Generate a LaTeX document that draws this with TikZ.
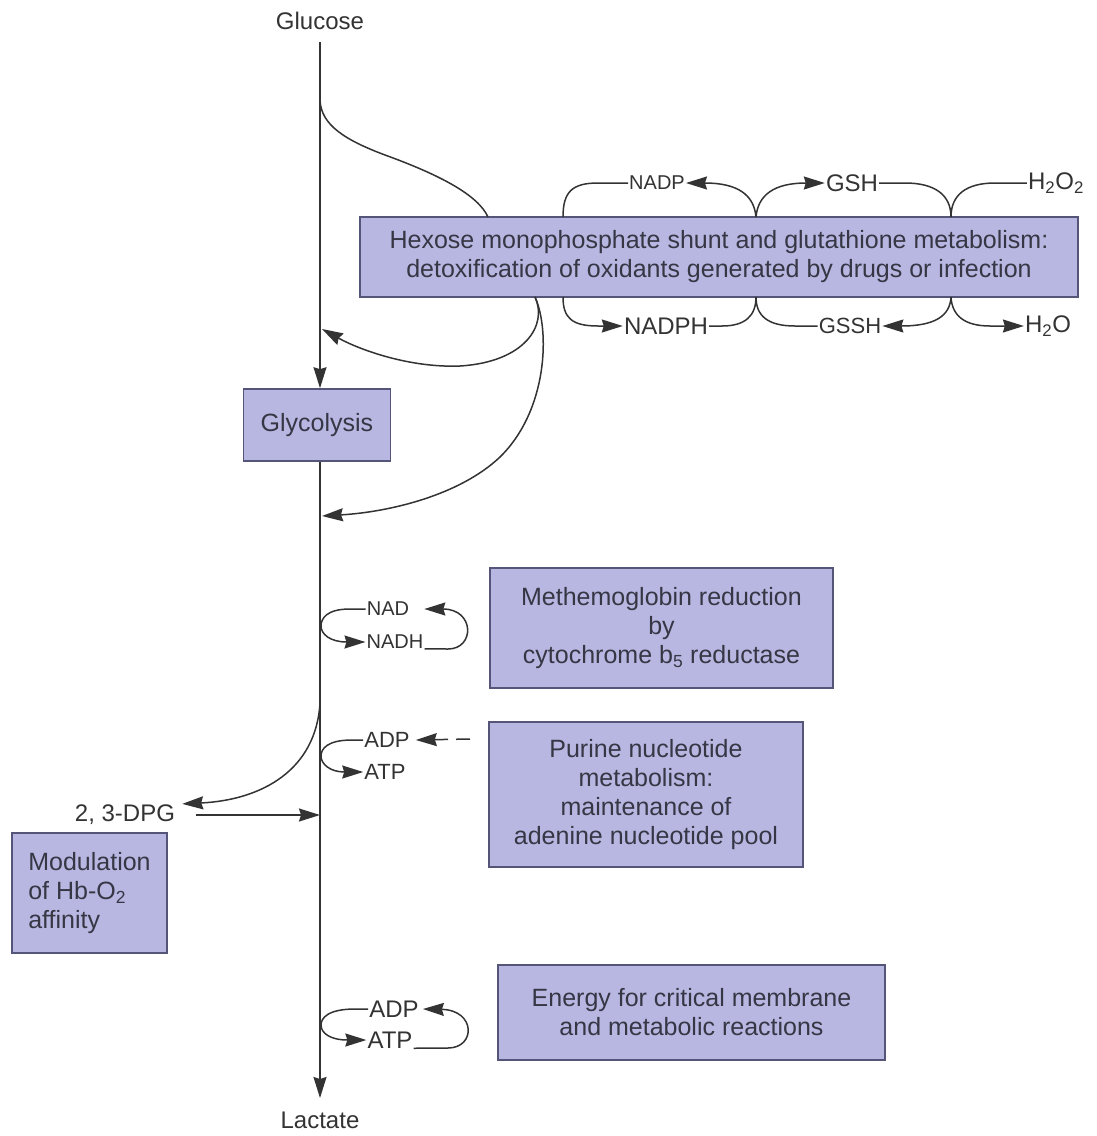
\documentclass[tikz,border=0pt]{standalone}
\usepackage{fontspec}
\setmainfont{Liberation Sans}
\usetikzlibrary{positioning,arrows.meta,calc}
\definecolor{ink}    {HTML}{333333}
\definecolor{boxfill}{HTML}{B7B7E2}
\definecolor{boxline}{HTML}{55557A}
\definecolor{txt}    {HTML}{363644}
\tikzset{
  % --- nodes
  mod/.style = {draw=boxline, fill=boxfill, line width=1.6pt, align=center,
                text=txt, inner sep=4pt, font=\fontsize{25}{29}\selectfont},
  lbl/.style = {text=ink, inner sep=1pt, font=\fontsize{24}{28}\selectfont},
  sml/.style = {lbl, font=\fontsize{20}{24}\selectfont},
  mid/.style = {lbl, font=\fontsize{22}{26}\selectfont},
  % --- edges
  ln/.style  = {draw=ink, line width=1.5pt},
  e/.style   = {ln, -{Stealth[length=21pt,width=13pt,inset=2pt]}},
  ed/.style  = {e, dash pattern=on 14pt off 8pt},
}
\begin{document}
\begin{tikzpicture}[x=1pt,y=-1pt]
  \useasboundingbox (0,0) rectangle (1096,1136);
  % main pathway
  \coordinate (top) at (320,42);
  \coordinate (bot) at (320,1098);
  \node[lbl, above=11pt of top] (glc) {Glucose};
  \node[lbl, below=13pt of bot] (lac) {Lactate};
  \node[mod, minimum width=147pt, minimum height=72pt] (gly) at (317,425) {Glycolysis};
  \draw[e] (top) -- (top |- gly.north);
  \draw[e] (top |- gly.south) -- (bot);

  % boxes
  \node[mod, minimum width=718pt, minimum height=80pt] (hmp) at (719,257)
    {Hexose monophosphate shunt and glutathione metabolism:\\detoxification of oxidants generated by drugs or infection};
  \node[mod, minimum width=343pt, minimum height=120pt] (metb) at (661.5,628)
    {Methemoglobin reduction\\by\\cytochrome b\textsubscript{5} reductase};
  \node[mod, minimum width=314pt, minimum height=145pt] (pur) at (646,794.5)
    {Purine nucleotide\\metabolism:\\maintenance of\\adenine nucleotide pool};
  \node[mod, minimum width=387pt, minimum height=95pt] (nrg) at (691.5,1012.5)
    {Energy for critical membrane\\and metabolic reactions};
  \node[mod, align=left, minimum width=155pt, minimum height=120pt] (hb) at (89.5,893)
    {Modulation\\of Hb-O\textsubscript{2}\\affinity};

  % shunt: into and out of the box
  \coordinate (br1) at (320,100);
  \coordinate (h0)  at (488,217);
  \coordinate (h1)  at (535,297);
  \coordinate (in1) at (322,329);
  \coordinate (in2) at (322,516);
  \draw[ln] (br1) .. controls (321,125) and (345,140) .. (385,155)
                  .. controls (440,175) and (478,195) .. (h0);
  \draw[e] (h1) .. controls (548,325) and (525,362) .. (460,366)
                .. controls (410,368) and (360,350) .. (in1);
  \draw[e] (h1) .. controls (550,330) and (548,410) .. (500,457)
                .. controls (460,495) and (390,512) .. (in2);

  % glutathione cycles
  \coordinate (t1) at (563,217); \coordinate (t2) at (756,217); \coordinate (t3) at (951,217);
  \coordinate (b1) at (563,297); \coordinate (b2) at (756,297); \coordinate (b3) at (951,297);
  \node[sml] (nadp)  at (657,183)  {NADP};
  \node[lbl] (gsh)   at (852,183)  {GSH};
  \node[lbl] (h2o2)  at (1056,183) {H\textsubscript{2}O\textsubscript{2}};
  \node[lbl] (nadph) at (666,326)  {NADPH};
  \node[mid] (gssh)  at (850,326)  {GSSH};
  \node[lbl] (h2o)   at (1048,326) {H\textsubscript{2}O};
  \draw[ln] (t1) .. controls (563,192) and (572,183) .. (598,183) -- (nadp.west);
  \draw[e]  (t2) .. controls (754,195) and (738,183) .. (nadp.east);
  \draw[e]  (t2) .. controls (758,195) and (774,183) .. (gsh.west);
  \draw[ln] (gsh.east) -- (905,183) .. controls (935,183) and (951,195) .. (t3);
  \draw[ln] (t3) .. controls (951,195) and (966,183) .. (995,183) -- (h2o2.west);
  \draw[e]  (b1) .. controls (563,318) and (572,326) .. (598,326) -- (nadph.west);
  \draw[ln] (nadph.east) -- (722,326) .. controls (745,326) and (756,316) .. (b2);
  \draw[ln] (b2) .. controls (756,316) and (768,326) .. (795,326) -- (gssh.west);
  \draw[e]  (b3) .. controls (950,316) and (935,326) .. (gssh.east);
  \draw[e]  (b3) .. controls (952,316) and (965,326) .. (990,326) -- (h2o.west);

  % NAD / NADH
  \node[sml] (nad)  at (388,609) {NAD};
  \node[sml] (nadh) at (395,642) {NADH};
  \draw[e] (nad.west) -- (350,609) .. controls (326,609) and (321,619) .. (321,626)
           .. controls (321,634) and (330,642) .. (nadh.west);
  \draw[e] (nadh.base east) -- (448,649) .. controls (475,649) and (475,609) .. ([xshift=14pt]nad.east);

  % ADP / ATP, purine
  \node[mid] (adp1) at (387,740) {ADP};
  \node[mid] (atp1) at (385,772) {ATP};
  \coordinate (pq) at (470,739);
  \draw[e] (adp1.west) -- (352,740) .. controls (327,740) and (321,749) .. (321,756)
           .. controls (321,764) and (330,772) .. (atp1.west);
  \draw[ed] (pq) -- ([xshift=5pt]adp1.east);

  % 2,3-DPG
  \coordinate (br2) at (320,703);
  \node[lbl] (dpg) at (125,815) {2, 3-DPG};
  \draw[e] (br2) .. controls (316,770) and (262,800) .. ([xshift=6pt]dpg.north east);
  \draw[e] ([xshift=20pt]dpg.east) -- (dpg.east -| top);

  % ADP / ATP, energy
  \node[lbl] (adp2) at (394,1009) {ADP};
  \node[lbl] (atp2) at (390,1040) {ATP};
  \draw[e] (adp2.west) -- (355,1009) .. controls (328,1009) and (321,1018) .. (321,1025)
           .. controls (321,1033) and (330,1040) .. (atp2.west);
  \draw[e] (atp2.base east) -- (448,1048) .. controls (476,1048) and (476,1010) .. ([xshift=3pt]adp2.east);
\end{tikzpicture}
\end{document}
